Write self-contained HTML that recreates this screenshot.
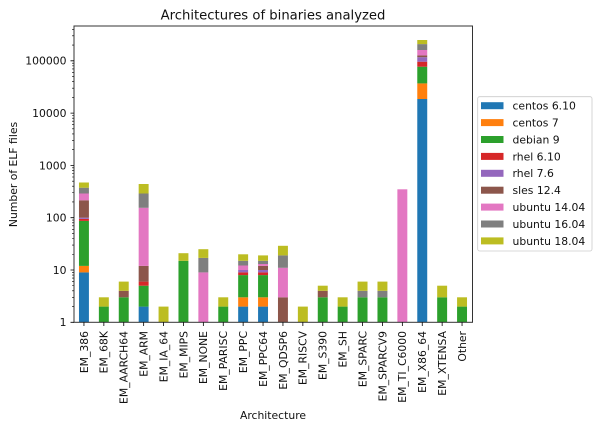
<!DOCTYPE html>
<html><head><meta charset="utf-8"><style>
html,body{margin:0;padding:0;background:#fff;}
svg{display:block;font-family:"DejaVu Sans","Liberation Sans",sans-serif;}
</style></head><body>
<svg width="600" height="429" viewBox="0 0 600 429" xmlns="http://www.w3.org/2000/svg">
<rect width="600" height="429" fill="#fff"/>
<g id="bars">
<!-- EM_386 -->
<rect x="78.97" y="272.4" width="9.95" height="49.9" fill="#1f77b4"/>
<rect x="78.97" y="265.9" width="9.95" height="6.5" fill="#ff7f0e"/>
<rect x="78.97" y="220.9" width="9.95" height="45.0" fill="#2ca02c"/>
<rect x="78.97" y="218.9" width="9.95" height="2.0" fill="#d62728"/>
<rect x="78.97" y="217.7" width="9.95" height="1.2" fill="#9467bd"/>
<rect x="78.97" y="200.3" width="9.95" height="17.4" fill="#8c564b"/>
<rect x="78.97" y="193.5" width="9.95" height="6.8" fill="#e377c2"/>
<rect x="78.97" y="187.7" width="9.95" height="5.8" fill="#7f7f7f"/>
<rect x="78.97" y="182.5" width="9.95" height="5.2" fill="#bcbd22"/>
<!-- EM_68K -->
<rect x="98.87" y="306.6" width="9.95" height="15.7" fill="#2ca02c"/>
<rect x="98.87" y="297.3" width="9.95" height="9.3" fill="#bcbd22"/>
<!-- EM_AARCH64 -->
<rect x="118.77" y="297.3" width="9.95" height="25.0" fill="#2ca02c"/>
<rect x="118.77" y="290.8" width="9.95" height="6.5" fill="#8c564b"/>
<rect x="118.77" y="281.6" width="9.95" height="9.2" fill="#bcbd22"/>
<!-- EM_ARM -->
<rect x="138.67" y="306.6" width="9.95" height="15.7" fill="#1f77b4"/>
<rect x="138.67" y="285.7" width="9.95" height="20.9" fill="#2ca02c"/>
<rect x="138.67" y="281.6" width="9.95" height="4.1" fill="#d62728"/>
<rect x="138.67" y="265.9" width="9.95" height="15.7" fill="#8c564b"/>
<rect x="138.67" y="207.8" width="9.95" height="58.1" fill="#e377c2"/>
<rect x="138.67" y="193.5" width="9.95" height="14.3" fill="#7f7f7f"/>
<rect x="138.67" y="184.0" width="9.95" height="9.5" fill="#bcbd22"/>
<!-- EM_IA_64 -->
<rect x="158.57" y="306.6" width="9.95" height="15.7" fill="#bcbd22"/>
<!-- EM_MIPS -->
<rect x="178.47" y="260.8" width="9.95" height="61.5" fill="#2ca02c"/>
<rect x="178.47" y="253.2" width="9.95" height="7.6" fill="#bcbd22"/>
<!-- EM_NONE -->
<rect x="198.37" y="272.4" width="9.95" height="49.9" fill="#e377c2"/>
<rect x="198.37" y="257.9" width="9.95" height="14.5" fill="#7f7f7f"/>
<rect x="198.37" y="249.2" width="9.95" height="8.7" fill="#bcbd22"/>
<!-- EM_PARISC -->
<rect x="218.27" y="306.6" width="9.95" height="15.7" fill="#2ca02c"/>
<rect x="218.27" y="297.3" width="9.95" height="9.3" fill="#bcbd22"/>
<!-- EM_PPC -->
<rect x="238.17" y="306.6" width="9.95" height="15.7" fill="#1f77b4"/>
<rect x="238.17" y="297.3" width="9.95" height="9.3" fill="#ff7f0e"/>
<rect x="238.17" y="275.1" width="9.95" height="22.2" fill="#2ca02c"/>
<rect x="238.17" y="272.4" width="9.95" height="2.7" fill="#d62728"/>
<rect x="238.17" y="270.0" width="9.95" height="2.4" fill="#9467bd"/>
<rect x="238.17" y="265.5" width="9.95" height="4.5" fill="#e377c2"/>
<rect x="238.17" y="260.8" width="9.95" height="4.7" fill="#7f7f7f"/>
<rect x="238.17" y="254.3" width="9.95" height="6.5" fill="#bcbd22"/>
<!-- EM_PPC64 -->
<rect x="258.07" y="306.6" width="9.95" height="15.7" fill="#1f77b4"/>
<rect x="258.07" y="297.3" width="9.95" height="9.3" fill="#ff7f0e"/>
<rect x="258.07" y="275.1" width="9.95" height="22.2" fill="#2ca02c"/>
<rect x="258.07" y="272.4" width="9.95" height="2.7" fill="#d62728"/>
<rect x="258.07" y="270.0" width="9.95" height="2.4" fill="#9467bd"/>
<rect x="258.07" y="265.9" width="9.95" height="4.1" fill="#8c564b"/>
<rect x="258.07" y="264.0" width="9.95" height="1.9" fill="#e377c2"/>
<rect x="258.07" y="260.8" width="9.95" height="3.2" fill="#7f7f7f"/>
<rect x="258.07" y="255.4" width="9.95" height="5.4" fill="#bcbd22"/>
<!-- EM_QDSP6 -->
<rect x="277.97" y="297.3" width="9.95" height="25.0" fill="#8c564b"/>
<rect x="277.97" y="267.8" width="9.95" height="29.5" fill="#e377c2"/>
<rect x="277.97" y="255.4" width="9.95" height="12.4" fill="#7f7f7f"/>
<rect x="277.97" y="245.8" width="9.95" height="9.6" fill="#bcbd22"/>
<!-- EM_RISCV -->
<rect x="297.87" y="306.6" width="9.95" height="15.7" fill="#bcbd22"/>
<!-- EM_S390 -->
<rect x="317.77" y="297.3" width="9.95" height="25.0" fill="#2ca02c"/>
<rect x="317.77" y="290.8" width="9.95" height="6.5" fill="#8c564b"/>
<rect x="317.77" y="285.7" width="9.95" height="5.1" fill="#bcbd22"/>
<!-- EM_SH -->
<rect x="337.67" y="306.6" width="9.95" height="15.7" fill="#2ca02c"/>
<rect x="337.67" y="297.3" width="9.95" height="9.3" fill="#bcbd22"/>
<!-- EM_SPARC -->
<rect x="357.57" y="297.3" width="9.95" height="25.0" fill="#2ca02c"/>
<rect x="357.57" y="290.8" width="9.95" height="6.5" fill="#7f7f7f"/>
<rect x="357.57" y="281.6" width="9.95" height="9.2" fill="#bcbd22"/>
<!-- EM_SPARCV9 -->
<rect x="377.47" y="297.3" width="9.95" height="25.0" fill="#2ca02c"/>
<rect x="377.47" y="290.8" width="9.95" height="6.5" fill="#7f7f7f"/>
<rect x="377.47" y="281.6" width="9.95" height="9.2" fill="#bcbd22"/>
<!-- EM_TI_C6000 -->
<rect x="397.37" y="189.3" width="9.95" height="133.0" fill="#e377c2"/>
<!-- EM_X86_64 -->
<rect x="417.27" y="99.0" width="9.95" height="223.3" fill="#1f77b4"/>
<rect x="417.27" y="83.4" width="9.95" height="15.6" fill="#ff7f0e"/>
<rect x="417.27" y="66.7" width="9.95" height="16.7" fill="#2ca02c"/>
<rect x="417.27" y="61.7" width="9.95" height="5.0" fill="#d62728"/>
<rect x="417.27" y="57.2" width="9.95" height="4.5" fill="#9467bd"/>
<rect x="417.27" y="55.4" width="9.95" height="1.8" fill="#8c564b"/>
<rect x="417.27" y="50.0" width="9.95" height="5.4" fill="#e377c2"/>
<rect x="417.27" y="44.1" width="9.95" height="5.9" fill="#7f7f7f"/>
<rect x="417.27" y="40.0" width="9.95" height="4.1" fill="#bcbd22"/>
<!-- EM_XTENSA -->
<rect x="437.17" y="297.3" width="9.95" height="25.0" fill="#2ca02c"/>
<rect x="437.17" y="285.7" width="9.95" height="11.6" fill="#bcbd22"/>
<!-- Other -->
<rect x="457.07" y="306.6" width="9.95" height="15.7" fill="#2ca02c"/>
<rect x="457.07" y="297.3" width="9.95" height="9.3" fill="#bcbd22"/>
</g>

<!-- axes frame -->
<rect x="74" y="26" width="398.5" height="296.3" fill="none" stroke="#333" stroke-width="1"/>

<!-- y major ticks -->
<path d="M70.5 322.3H74M70.5 270H74M70.5 217.7H74M70.5 165.4H74M70.5 113.1H74M70.5 60.8H74" stroke="#000" stroke-width="0.8"/>
<!-- y minor ticks -->
<path d="M72 306.56H74M72 297.35H74M72 290.81H74M72 285.74H74M72 281.6H74M72 278.1H74M72 275.07H74M72 272.39H74
M72 254.26H74M72 245.05H74M72 238.51H74M72 233.44H74M72 229.3H74M72 225.8H74M72 222.77H74M72 220.09H74
M72 201.96H74M72 192.75H74M72 186.21H74M72 181.14H74M72 177H74M72 173.5H74M72 170.47H74M72 167.79H74
M72 149.66H74M72 140.45H74M72 133.91H74M72 128.84H74M72 124.7H74M72 121.2H74M72 118.17H74M72 115.49H74
M72 97.36H74M72 88.15H74M72 81.61H74M72 76.54H74M72 72.4H74M72 68.9H74M72 65.87H74M72 63.19H74
M72 45.06H74M72 35.85H74M72 29.31H74" stroke="#000" stroke-width="0.6"/>

<!-- y tick labels -->
<g font-size="10.8" fill="#111" text-anchor="end">
<text x="66.5" y="326.2">1</text>
<text x="66.5" y="273.9">10</text>
<text x="66.5" y="221.6">100</text>
<text x="66.5" y="169.3">1000</text>
<text x="66.5" y="117">10000</text>
<text x="66.5" y="64.7">100000</text>
</g>

<!-- x ticks -->
<path d="M83.95 322.3V326M103.85 322.3V326M123.75 322.3V326M143.65 322.3V326M163.55 322.3V326M183.45 322.3V326M203.35 322.3V326M223.25 322.3V326M243.15 322.3V326M263.05 322.3V326M282.95 322.3V326M302.85 322.3V326M322.75 322.3V326M342.65 322.3V326M362.55 322.3V326M382.45 322.3V326M402.35 322.3V326M422.25 322.3V326M442.15 322.3V326M462.05 322.3V326" stroke="#000" stroke-width="0.8"/>

<!-- x tick labels -->
<g font-size="10.8" fill="#111" text-anchor="end">
<text transform="translate(87.8,331) rotate(-90)">EM_386</text>
<text transform="translate(107.7,331) rotate(-90)">EM_68K</text>
<text transform="translate(127.6,331) rotate(-90)">EM_AARCH64</text>
<text transform="translate(147.5,331) rotate(-90)">EM_ARM</text>
<text transform="translate(167.4,331) rotate(-90)">EM_IA_64</text>
<text transform="translate(187.3,331) rotate(-90)">EM_MIPS</text>
<text transform="translate(207.2,331) rotate(-90)">EM_NONE</text>
<text transform="translate(227.1,331) rotate(-90)">EM_PARISC</text>
<text transform="translate(247.0,331) rotate(-90)">EM_PPC</text>
<text transform="translate(266.9,331) rotate(-90)">EM_PPC64</text>
<text transform="translate(286.8,331) rotate(-90)">EM_QDSP6</text>
<text transform="translate(306.7,331) rotate(-90)">EM_RISCV</text>
<text transform="translate(326.6,331) rotate(-90)">EM_S390</text>
<text transform="translate(346.5,331) rotate(-90)">EM_SH</text>
<text transform="translate(366.4,331) rotate(-90)">EM_SPARC</text>
<text transform="translate(386.3,331) rotate(-90)">EM_SPARCV9</text>
<text transform="translate(406.2,331) rotate(-90)">EM_TI_C6000</text>
<text transform="translate(426.1,331) rotate(-90)">EM_X86_64</text>
<text transform="translate(446.0,331) rotate(-90)">EM_XTENSA</text>
<text transform="translate(465.9,331) rotate(-90)">Other</text>
</g>

<!-- axis labels & title -->
<text x="273" y="419" font-size="10.8" fill="#111" text-anchor="middle">Architecture</text>
<text transform="translate(17,174.5) rotate(-90)" font-size="10.8" fill="#111" text-anchor="middle">Number of ELF files</text>
<text x="273" y="19.5" font-size="13.2" fill="#111" text-anchor="middle">Architectures of binaries analyzed</text>

<!-- legend -->
<rect x="477.7" y="96.7" width="114.3" height="154.3" rx="2" ry="2" fill="#fff" fill-opacity="0.8" stroke="#ccc" stroke-width="0.8"/>
<g>
<rect x="481" y="102.2" width="22.5" height="7" fill="#1f77b4"/>
<rect x="481" y="119.1" width="22.5" height="7" fill="#ff7f0e"/>
<rect x="481" y="136.0" width="22.5" height="7" fill="#2ca02c"/>
<rect x="481" y="152.9" width="22.5" height="7" fill="#d62728"/>
<rect x="481" y="169.8" width="22.5" height="7" fill="#9467bd"/>
<rect x="481" y="186.7" width="22.5" height="7" fill="#8c564b"/>
<rect x="481" y="203.6" width="22.5" height="7" fill="#e377c2"/>
<rect x="481" y="220.5" width="22.5" height="7" fill="#7f7f7f"/>
<rect x="481" y="237.4" width="22.5" height="7" fill="#bcbd22"/>
</g>
<g font-size="10.8" fill="#111">
<text x="512.5" y="109.6">centos 6.10</text>
<text x="512.5" y="126.5">centos 7</text>
<text x="512.5" y="143.4">debian 9</text>
<text x="512.5" y="160.3">rhel 6.10</text>
<text x="512.5" y="177.2">rhel 7.6</text>
<text x="512.5" y="194.1">sles 12.4</text>
<text x="512.5" y="211.0">ubuntu 14.04</text>
<text x="512.5" y="227.9">ubuntu 16.04</text>
<text x="512.5" y="244.8">ubuntu 18.04</text>
</g>
</svg>
</body></html>
